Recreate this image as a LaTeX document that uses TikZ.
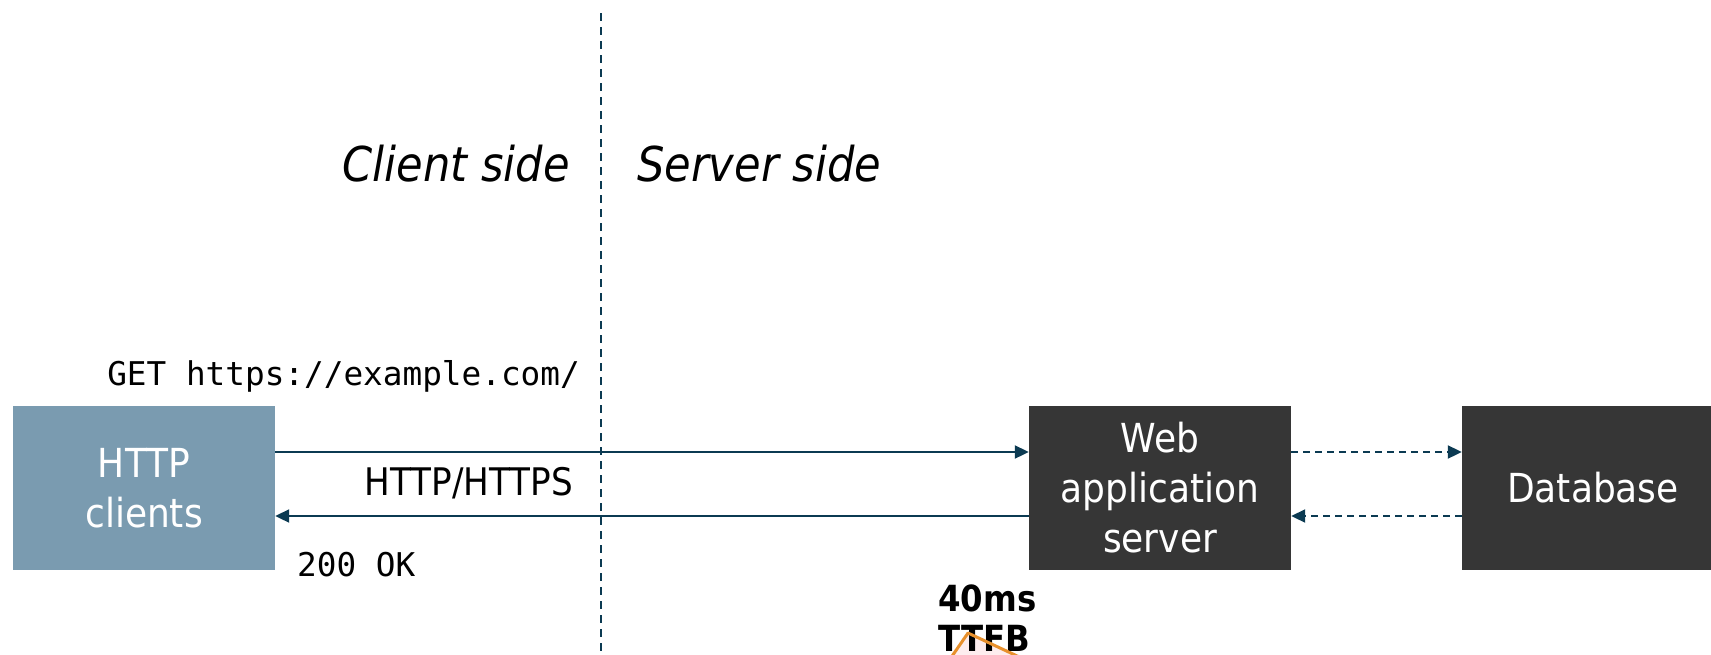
\documentclass[tikz,border=0pt]{standalone}
\usepackage{fontspec}
\setmainfont{DejaVu Sans Condensed}
\setmonofont{DejaVu Sans Mono}
\usetikzlibrary{arrows.meta}
\definecolor{linecol}{HTML}{0B3A52}
\definecolor{clientcol}{HTML}{7A9BB0}
\definecolor{servercol}{HTML}{363636}
\definecolor{ttfbcol}{HTML}{E8912D}
\definecolor{ttfbfill}{HTML}{FDEDEE}
\tikzset{
  x=1pt, y=1pt,
  box/.style={minimum width=262pt, minimum height=164pt, inner sep=0pt,
    text=white, align=center, font=\fontsize{40}{50}\selectfont},
  clientbox/.style={box, fill=clientcol},
  serverbox/.style={box, fill=servercol},
  lbl/.style={inner sep=0pt},
  conn/.style={draw=linecol, line width=2pt, -{Triangle[length=14pt,width=13pt]}},
  dconn/.style={conn, dash pattern=on 7pt off 5pt},
  divider/.style={draw=linecol, line width=2pt, dash pattern=on 8pt off 6pt},
}
\begin{document}
\begin{tikzpicture}
\useasboundingbox (0,0) rectangle (1711,-654);
\begin{scope}
\clip (0,0) rectangle (1711,-654);

% client / server divider
\coordinate (divtop) at (601,-13);
\coordinate (divbot) at (601,-660);
\draw[divider] (divtop) -- (divbot);

\node[lbl, anchor=east, font=\fontsize{48}{56}\selectfont\itshape] (cside) at (570,-164) {Client side};
\node[lbl, anchor=west, font=\fontsize{48}{56}\selectfont\itshape] (sside) at (637,-164) {Server side};

% boxes
\node[clientbox] (cl) at (144,-488) {HTTP\\clients};
\node[serverbox] (web) at (1160,-488) {Web\\application\\server};
\node[serverbox] (db) at (1593,-488) {Database};

% request / response
\node[lbl, anchor=east, font=\fontsize{32.7}{38}\selectfont\ttfamily] (get) at (580,-376) {GET https://example.com/};
\node[lbl, anchor=east, font=\fontsize{38}{44}\selectfont] (proto) at (573,-483) {HTTP/HTTPS};
\node[lbl, anchor=west, font=\fontsize{32.7}{38}\selectfont\ttfamily] (ok) at (297,-565) {200 OK};

\draw[conn] ([yshift=36pt]cl.east) -- ([yshift=36pt]web.west);
\draw[conn] ([yshift=-28pt]web.west) -- ([yshift=-28pt]cl.east);
\draw[dconn] ([yshift=36pt]web.east) -- ([yshift=36pt]db.west);
\draw[dconn] ([yshift=-28pt]db.west) -- ([yshift=-28pt]web.east);

% time to first byte marker
\coordinate (t1) at (948,-662);
\coordinate (t2) at (968,-633);
\coordinate (t3) at (1030,-662);
\fill[ttfbfill] (t1) -- (t2) -- (t3) -- cycle;
\node[lbl, anchor=west, align=left, font=\fontsize{36}{40}\selectfont\bfseries] (ttfb) at (938,-618) {40ms\\TTFB};
\draw[ttfbcol, line width=3pt, line join=round] (t1) -- (t2) -- (t3);
\end{scope}
\end{tikzpicture}
\end{document}
